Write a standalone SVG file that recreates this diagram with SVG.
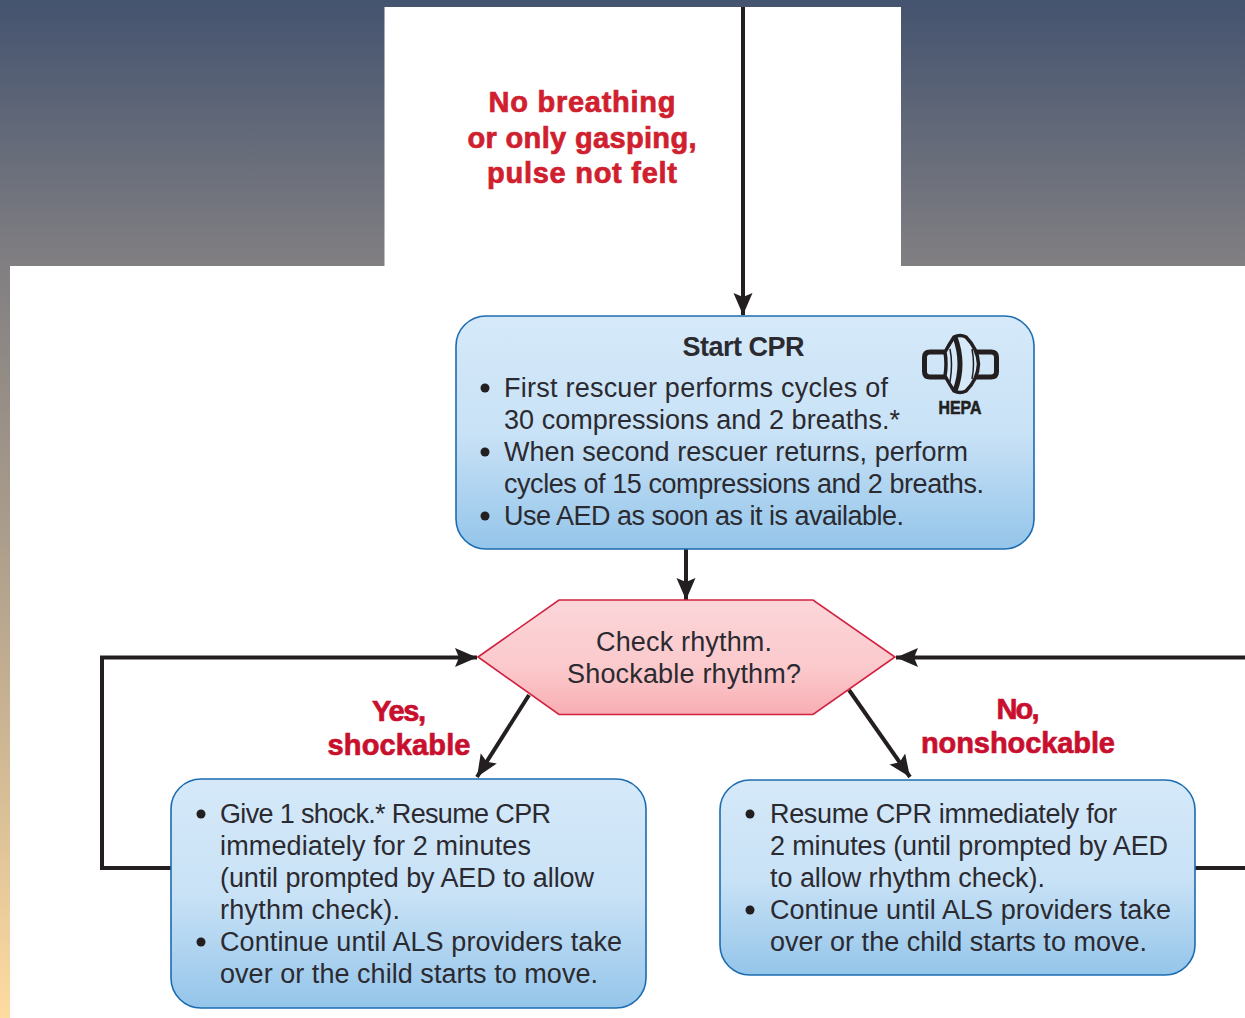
<svg xmlns="http://www.w3.org/2000/svg" width="1245" height="1018" viewBox="0 0 1245 1018">
<style>
.b{font-family:"Liberation Sans",Arial,sans-serif;font-size:27px;fill:#2b2a30}
.r{font-family:"Liberation Sans",Arial,sans-serif;font-size:29px;font-weight:700;fill:#c8102e;stroke:#c8102e;stroke-width:.7;text-anchor:middle}
.box{stroke:#1c6cb0;stroke-width:1.6}
.c{fill:none;stroke:#231f20;stroke-width:4}
.dot{fill:#231f20}
</style>
<defs>
<linearGradient id="bg" gradientUnits="userSpaceOnUse" x1="0" y1="0" x2="0" y2="1018">
<stop offset="0" stop-color="#44536f"/><stop offset="0.26" stop-color="#817f82"/><stop offset="0.62" stop-color="#bba88f"/><stop offset="1" stop-color="#fedba1"/>
</linearGradient>
<linearGradient id="blue" x1="0" y1="0" x2="0" y2="1">
<stop offset="0" stop-color="#d5e9f9"/><stop offset="0.5" stop-color="#c9e2f6"/><stop offset="1" stop-color="#94c5ea"/>
</linearGradient>
<linearGradient id="pink" x1="0" y1="0" x2="0" y2="1">
<stop offset="0" stop-color="#fbd6d9"/><stop offset="0.6" stop-color="#fbc9cc"/><stop offset="1" stop-color="#f8aeb3"/>
</linearGradient>
<marker id="a" markerUnits="userSpaceOnUse" markerWidth="24" markerHeight="22" refX="22" refY="11" orient="auto">
<path d="M0 1.500 L22 11 L0 20.500 L4 11 Z" fill="#231f20"/>
</marker>
</defs>
<rect width="1245" height="1018" fill="url(#bg)"/>
<rect x="10" y="266" width="1235" height="752" fill="#fff"/>
<rect x="384.500" y="7" width="516.500" height="259" fill="#fff"/>
<text class="r" style="fill:#d0202e;stroke:#d0202e"><tspan x="582" y="112" textLength="187">No breathing</tspan><tspan x="582" y="148" textLength="229">or only gasping,</tspan><tspan x="582" y="183" textLength="190">pulse not felt</tspan></text>

<g id="connectors">
<path class="c" d="M743 7V315" marker-end="url(#a)"/>
<path class="c" d="M686 549V600" marker-end="url(#a)"/>
<path class="c" d="M529 695L477 777" marker-end="url(#a)"/>
<path class="c" d="M849 690L910 777" marker-end="url(#a)"/>
<path class="c" d="M171 868H102V657.500H477" marker-end="url(#a)"/>
<path class="c" d="M1195 868H1245"/>
<path class="c" d="M1245 657.500H896" marker-end="url(#a)"/>
</g>

<g id="start-cpr">
<rect class="box" x="456" y="316" width="578" height="233" rx="30" fill="url(#blue)"/>
<text class="b" x="743.500" y="356" text-anchor="middle" font-weight="700" textLength="122">Start CPR</text>
<circle class="dot" cx="485" cy="388" r="4.500"/>
<circle class="dot" cx="485" cy="452" r="4.500"/>
<circle class="dot" cx="485" cy="516" r="4.500"/>
<text class="b"><tspan x="504" y="397" textLength="384">First rescuer performs cycles of</tspan><tspan x="504" y="429" textLength="396">30 compressions and 2 breaths.*</tspan><tspan x="504" y="461" textLength="464">When second rescuer returns, perform</tspan><tspan x="504" y="493" textLength="480">cycles of 15 compressions and 2 breaths.</tspan><tspan x="504" y="525" textLength="400">Use AED as soon as it is available.</tspan></text>
<g id="hepa">
<path d="M946 352H930Q924.500 352 924.500 357.500V371.500Q924.500 377 930 377H946M975 352H991Q996.500 352 996.500 357.500V371.500Q996.500 377 991 377H975" fill="none" stroke="#231f20" stroke-width="5"/>
<path d="M945 352Q950 343 954 337Q960 334 966 337Q978 349 978.500 364Q978 379 966 391Q960 394 954 391Q950 385 945 376Q947 364 945 352Z" fill="#d5e9f9" stroke="#231f20" stroke-width="3.500"/>
<path d="M955 337Q965 364 955 391" fill="none" stroke="#231f20" stroke-width="5"/>
<path d="M950 349Q953 364 950 382M972 349Q975 364 972 379" fill="none" stroke="#231f20" stroke-width="1.500"/>
<text x="960" y="413.500" text-anchor="middle" font-family="'Liberation Sans',Arial,sans-serif" font-size="19" font-weight="700" fill="#231f20" stroke="#231f20" stroke-width=".6" textLength="43" lengthAdjust="spacingAndGlyphs">HEPA</text>
</g>
</g>

<g id="check-rhythm">
<polygon points="478,657 559,600 813,600 895,657 813,714.500 559,714.500" fill="url(#pink)" stroke="#d0213f" stroke-width="1.600"/>
<text class="b" text-anchor="middle"><tspan x="684" y="651" textLength="176">Check rhythm.</tspan><tspan x="684" y="683" textLength="234">Shockable rhythm?</tspan></text>
</g>

<text class="r"><tspan x="399" y="721" textLength="54">Yes,</tspan><tspan x="399" y="755" textLength="143">shockable</tspan></text>
<text class="r"><tspan x="1018" y="719" textLength="43">No,</tspan><tspan x="1018" y="753" textLength="194">nonshockable</tspan></text>

<g id="yes-box">
<rect class="box" x="171" y="779" width="475" height="229" rx="30" fill="url(#blue)"/>
<circle class="dot" cx="201" cy="814" r="4.500"/>
<circle class="dot" cx="201" cy="942" r="4.500"/>
<text class="b"><tspan x="220" y="823" textLength="331">Give 1 shock.* Resume CPR</tspan><tspan x="220" y="855" textLength="311">immediately for 2 minutes</tspan><tspan x="220" y="887" textLength="374">(until prompted by AED to allow</tspan><tspan x="220" y="919" textLength="180">rhythm check).</tspan><tspan x="220" y="951" textLength="402">Continue until ALS providers take</tspan><tspan x="220" y="983" textLength="378">over or the child starts to move.</tspan></text>
</g>

<g id="no-box">
<rect class="box" x="720" y="780" width="475" height="195" rx="30" fill="url(#blue)"/>
<circle class="dot" cx="750" cy="814" r="4.500"/>
<circle class="dot" cx="750" cy="910" r="4.500"/>
<text class="b"><tspan x="770" y="823" textLength="347">Resume CPR immediately for</tspan><tspan x="770" y="855" textLength="398">2 minutes (until prompted by AED</tspan><tspan x="770" y="887" textLength="275">to allow rhythm check).</tspan><tspan x="770" y="919" textLength="401">Continue until ALS providers take</tspan><tspan x="770" y="951" textLength="377">over or the child starts to move.</tspan></text>
</g>
</svg>
